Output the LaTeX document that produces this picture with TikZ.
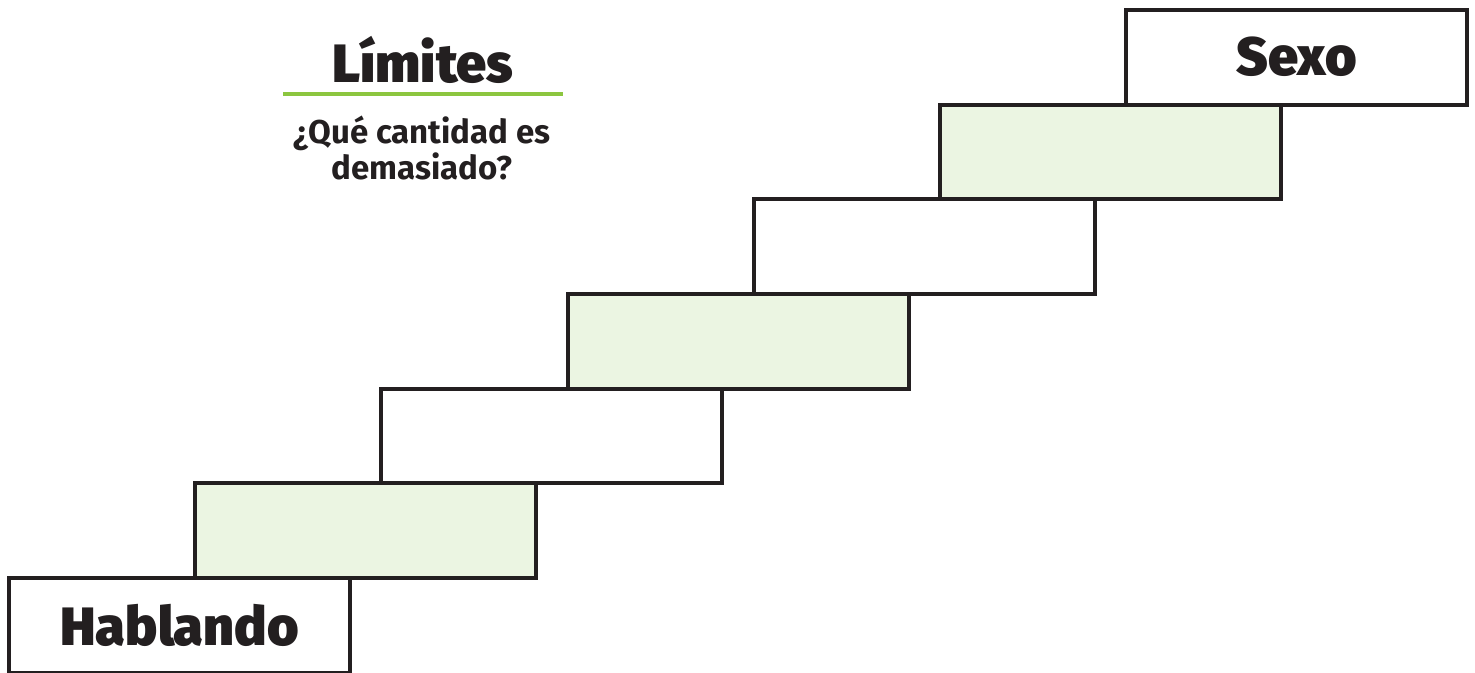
\documentclass[tikz,border=0pt]{standalone}
\usepackage{fontspec}
\setmainfont{Fira Sans}
\newfontfamily\heavyfont{Fira Sans Black}

\definecolor{tinta}{HTML}{231F20}
\definecolor{pasoverde}{HTML}{EBF5E2}
\definecolor{rayaverde}{HTML}{8CC63F}

\tikzset{
    peldano/.style={draw=tinta, line width=4pt, rectangle, anchor=north west,
        minimum width=341pt, minimum height=94.7pt, inner sep=0pt, outer sep=0pt,
        text=tinta, font=\heavyfont\fontsize{54}{54}\selectfont},
    titulo/.style={text=tinta, font=\heavyfont\fontsize{54}{54}\selectfont},
    subtitulo/.style={text=tinta, align=center, inner sep=0pt,
        font=\bfseries\fontsize{33}{31}\selectfont}
}

\begin{document}
\begin{tikzpicture}[x=1pt, y=-1pt]
    \useasboundingbox (0,0) rectangle (1475,672);
    % escalera
    \foreach \i/\col/\txt in {1/white/Hablando, 2/pasoverde/, 3/white/,
        4/pasoverde/, 5/white/, 6/pasoverde/, 7/white/Sexo}{
        \node[peldano, fill=\col] (p\i) at ({9+(\i-1)*186.2}, {578-(\i-1)*94.7}) {\txt};
    }
    % encabezado
    \node[titulo, anchor=base] (limites) at (423,82) {Límites};
    \coordinate (rayaL) at (283,94);
    \coordinate (rayaR) at (563,94);
    \draw[rayaverde, line width=4pt] (rayaL) -- (rayaR);
    \node[subtitulo] (pregunta) at (422,148) {¿Qué cantidad es\\demasiado?};
\end{tikzpicture}
\end{document}
